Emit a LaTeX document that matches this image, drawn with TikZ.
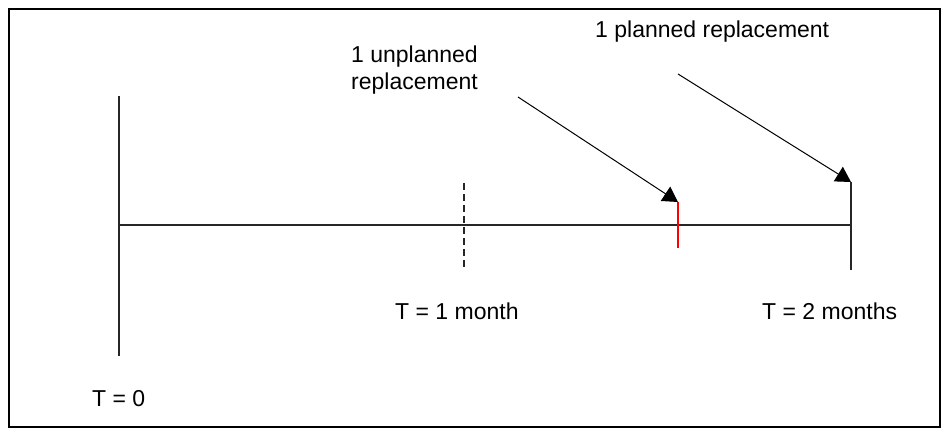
\documentclass[tikz,border=0pt]{standalone}
\usepackage{fontspec}
\setmainfont{Liberation Sans}
\usetikzlibrary{arrows.meta}
\begin{document}
\begin{tikzpicture}[x=1pt,y=-1pt,
  lbl/.style={inner sep=0pt,font=\fontsize{23}{27}\selectfont,anchor=base west,align=left},
  axis/.style={line width=2pt,black!85},
  pointer/.style={line width=1pt,-{Triangle[length=15pt,width=17pt]}}]
\useasboundingbox (0,0) rectangle (948,435);
\draw[line width=2.5pt] (9,9) rectangle (940,427);
% coordinates
\coordinate (t0top) at (119,96);
\coordinate (t0bot) at (119,356);
\coordinate (axL) at (119,225);
\coordinate (axR) at (851,225);
\coordinate (m1top) at (464,183);
\coordinate (m1bot) at (464,269);
\coordinate (redtop) at (678,202);
\coordinate (redbot) at (678,248);
\coordinate (m2top) at (851,182);
\coordinate (m2bot) at (851,270);
\coordinate (a1s) at (518,97);
\coordinate (a2s) at (678,74);
% lines
\draw[axis] (t0top) -- (t0bot);
\draw[axis] (axL) -- (axR);
\draw[axis,dash pattern=on 7pt off 4pt] (m1top) -- (m1bot);
\draw[line width=2pt,red] (redtop) -- (redbot);
\draw[axis] (m2top) -- (m2bot);
\draw[pointer] (a1s) -- (redtop);
\draw[pointer] (a2s) -- (m2top);
% labels
\node[lbl] (lu) at (351,90) {1 unplanned\\replacement};
\node[lbl] (lp) at (595,38) {1 planned replacement};
\node[lbl] (l0) at (92,407) {T = 0};
\node[lbl] (l1) at (395,320) {T = 1 month};
\node[lbl] (l2) at (762,320) {T = 2 months};
\end{tikzpicture}
\end{document}
